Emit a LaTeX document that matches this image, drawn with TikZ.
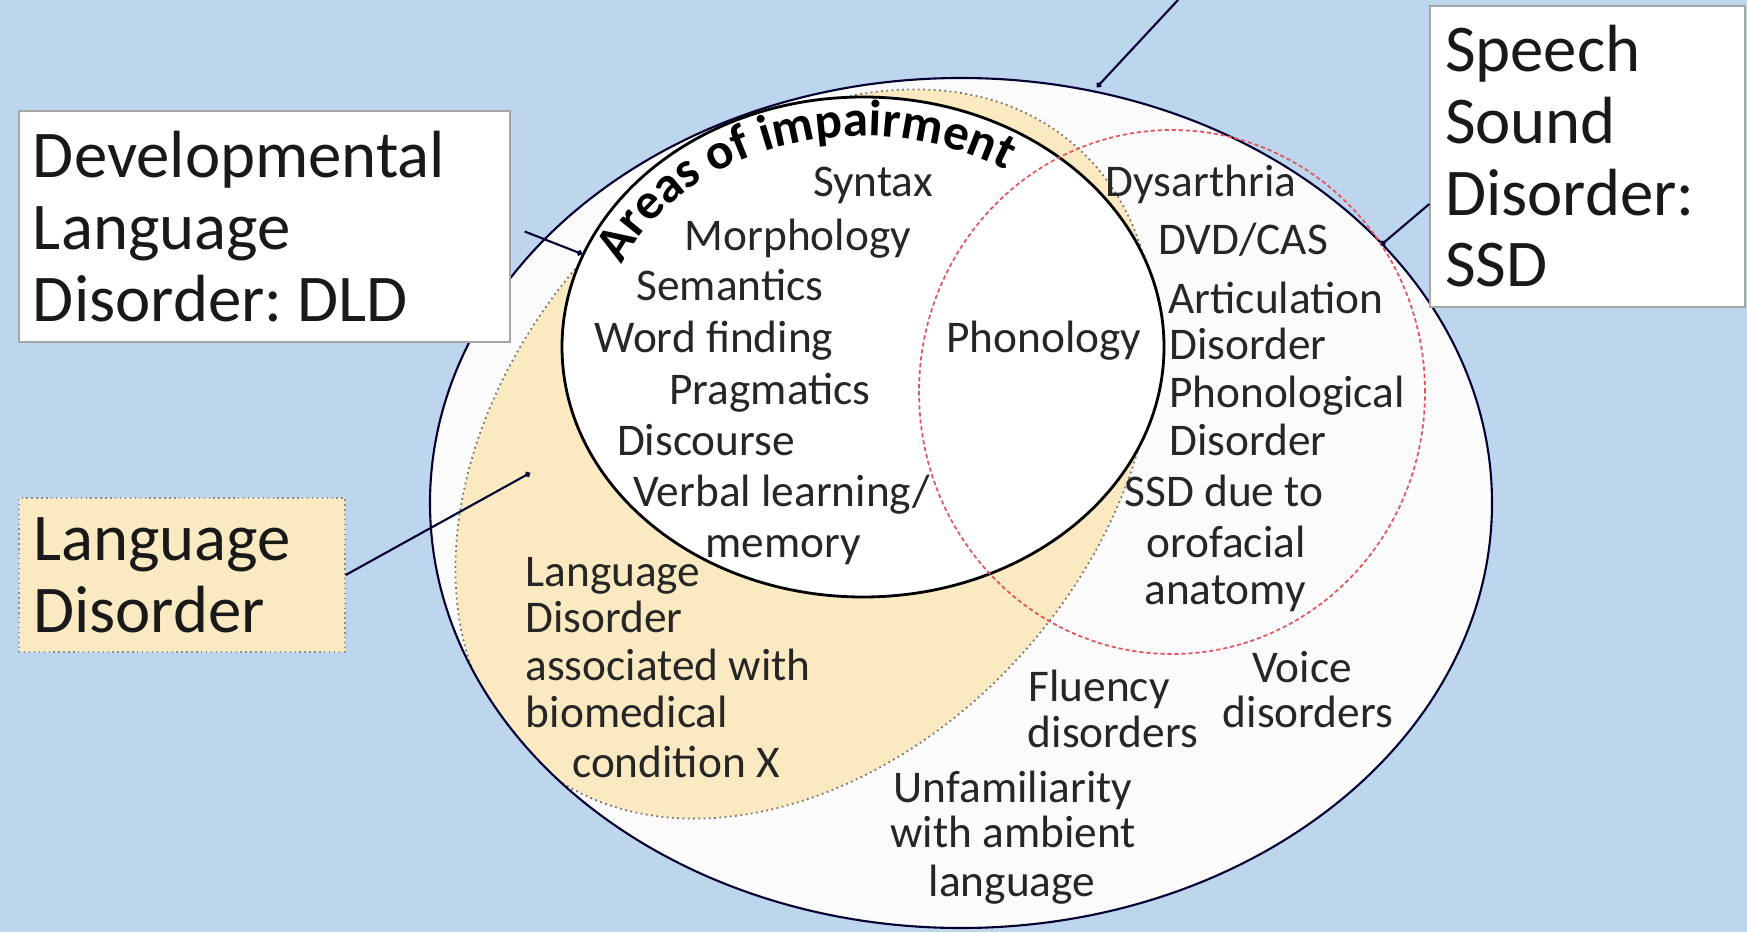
\documentclass[tikz,border=0pt]{standalone}
\usepackage{fontspec}
\setmainfont{Carlito}
\usetikzlibrary{arrows.meta,positioning,calc,decorations.text}
\definecolor{bgblue}{RGB}{189,214,238}
\definecolor{ldyellow}{RGB}{251,234,193}
\definecolor{ssdred}{RGB}{226,86,98}
\colorlet{outerfill}{white!97!gray}
\colorlet{lineink}{black!80!blue}
\colorlet{boxedge}{black!35}

\begin{document}
\begin{tikzpicture}[
    callout/.style={draw=boxedge, fill=white, align=flush left, text=black!90,
                    font=\fontsize{19}{20.4}\selectfont\frenchspacing, inner ysep=0pt},
    pointer/.style={-{Circle[length=1.6pt]}, lineink, line width=0.6pt},
    item/.style={font=\fontsize{12.9}{14}\selectfont, text=black!85, yshift=-0.45mm,
                 text height=1.5ex, text depth=.25ex, inner sep=0pt}
  ]
  \useasboundingbox (0,0) rectangle (17.47,9.32);
  \fill[bgblue] (0,0) rectangle (17.47,9.32);

  % outer ellipse and language disorder region
  \fill[outerfill] (9.61,4.29) ellipse (5.31 and 4.25);
  \begin{scope}
    \clip (9.61,4.29) ellipse (5.31 and 4.25);
    \draw[fill=ldyellow, draw=black!55, densely dotted, line width=0.5pt,
          rotate around={48.8:(8.05,4.78)}] (8.05,4.78) ellipse (4.10 and 2.95);
  \end{scope}
  \draw[lineink, line width=0.6pt] (9.61,4.29) ellipse (5.31 and 4.25);

  % DLD and SSD circles
  \draw[fill=white, line width=0.8pt] (8.63,5.85) ellipse (3.01 and 2.50);
  \draw[ssdred, line width=0.5pt, dash pattern=on 1.2pt off 0.8pt]
    (11.72,5.40) ellipse (2.53 and 2.62);
  \path[decorate, decoration={text along path, text align=center,
        text={|\fontsize{14.5}{14.5}\selectfont\bfseries|Areas of impairment}}]
    ($(8.63,5.85)+(157:2.62 and 2.11)$)
    arc[start angle=157, end angle=57, x radius=2.62, y radius=2.11];

  % areas of impairment
  \foreach \txt/\px/\py [count=\i] in {Syntax/8.73/7.50, Morphology/7.98/6.96,
      Semantics/7.30/6.46, Word finding/7.14/5.94, Pragmatics/7.70/5.42,
      Discourse/7.06/4.91, {Verbal learning/}/7.82/4.40, memory/7.83/3.89,
      Phonology/10.44/5.94}
    \node[item] (area\i) at (\px,\py) {\txt};
  % speech sound disorders
  \foreach \txt/\px/\py [count=\i] in {Dysarthria/12.01/7.50, {DVD/CAS}/12.43/6.92,
      Articulation/12.76/6.33, Disorder/12.48/5.87, Phonological/12.87/5.39,
      Disorder/12.48/4.91, SSD due to/12.24/4.40, orofacial/12.26/3.89,
      anatomy/12.25/3.42}
    \node[item] (sound\i) at (\px,\py) {\txt};
  % language disorder with condition
  \foreach \txt/\px/\py [count=\i] in {Language/6.13/3.60, Disorder/6.04/3.14,
      associated with/6.68/2.66, biomedical/6.27/2.19, condition X/6.76/1.69}
    \node[item] (cond\i) at (\px,\py) {\txt};
  % other disorders
  \foreach \txt/\px/\py [count=\i] in {Fluency/10.99/2.45, disorders/11.13/1.99,
      Voice/13.02/2.64, disorders/13.08/2.19, Unfamiliarity/10.13/1.44,
      with ambient/10.13/0.99, language/10.12/0.50}
    \node[item] (other\i) at (\px,\py) {\txt};

  % callout boxes
  \node[callout, minimum height=2.31cm, text width=4.63cm, inner xsep=0.14cm]
    (dld) at (2.645,7.055) {Developmental\\ Language\\ Disorder: DLD};
  \node[callout, minimum height=3.01cm, text width=2.85cm, inner xsep=0.15cm]
    (ssd) at (15.875,7.755) {Speech\\ Sound\\ Disorder:\\ SSD};
  \node[callout, fill=ldyellow, draw=black!45, densely dotted,
        minimum height=1.54cm, text width=2.98cm, inner xsep=0.14cm]
    (ld) at (1.82,3.57) {Language\\ Disorder};

  \coordinate (topend) at (11.78,9.32);
  \coordinate (toptip) at (10.97,8.45);
  \coordinate (dldtip) at (5.82,6.78);
  \coordinate (ssdtip) at (13.81,6.87);
  \coordinate (ldtip) at (5.30,4.59);
  \draw[pointer] (topend) -- (toptip);
  \draw[pointer] ([xshift=1.4mm, yshift=-0.5mm]dld.east) -- (dldtip);
  \draw[pointer] ([yshift=-4.75mm]ssd.west) -- (ssdtip);
  \draw[pointer] (ld.east) -- (ldtip);
\end{tikzpicture}
\end{document}
